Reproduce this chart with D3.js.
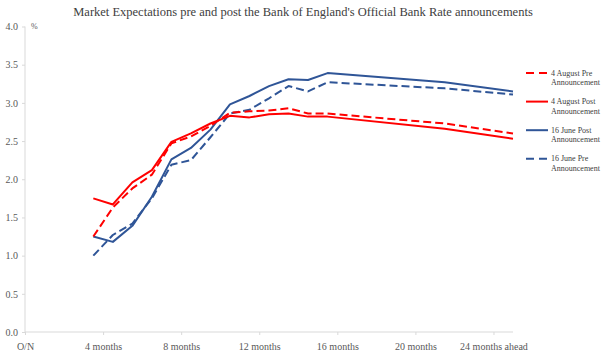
<!DOCTYPE html>
<html>
  <head>
    <meta charset="utf-8">
    <title>Market expectations</title>
    <script src="https://cdn.jsdelivr.net/npm/d3@7"></script>
    <style>
      body { margin: 0; background: #fff; }
      svg { font-family: "Liberation Serif", "DejaVu Serif", serif; }
      .axis text { fill: #595959; font-size: 10px; }
      .axis path, .axis line { stroke: #d9d9d9; }
      .series { fill: none; stroke-width: 2; stroke-linejoin: round; }
    </style>
  </head>

  <body>
    <svg id="chart" width="602" height="354"></svg>

    <script>
      // data (months ahead of O/N, % rate)
      months = [3.5, 4.5, 5.5, 6.5, 7.5, 8.5, 9.5, 10.5, 11.5, 12.5, 13.5, 14.5, 15.5, 21.5, 25];
      augustPre = [1.25, 1.63, 1.88, 2.06, 2.47, 2.56, 2.70, 2.87, 2.89, 2.90, 2.93, 2.86, 2.86, 2.73, 2.60];
      augustPost = [1.75, 1.67, 1.96, 2.12, 2.49, 2.60, 2.73, 2.83, 2.81, 2.85, 2.86, 2.82, 2.82, 2.66, 2.53];
      junePost = [1.25, 1.18, 1.39, 1.77, 2.26, 2.41, 2.65, 2.98, 3.09, 3.22, 3.31, 3.30, 3.39, 3.27, 3.15];
      junePre = [1.00, 1.27, 1.42, 1.75, 2.19, 2.25, 2.55, 2.86, 2.91, 3.06, 3.22, 3.15, 3.27, 3.19, 3.11];

      tickMonths = [0, 4, 8, 12, 16, 20, 24];
      tickLabels = ["O/N", "4 months", "8 months", "12 months", "16 months", "20 months", "24 months ahead"];

      seriesNames = ["4 August Pre", "4 August Post", "16 June Post", "16 June Pre"];
      seriesValues = [augustPre, augustPost, junePost, junePre];
      seriesColours = ["#ff0000", "#ff0000", "#2f5597", "#2f5597"];
      seriesDashed = [true, false, false, true];

      // elements
      chart = d3.select("#chart");
      serif = "'Liberation Serif', 'DejaVu Serif', serif";
      margin = { top: 26.5, right: 89, bottom: 22, left: 25 };
      width = 602;
      height = 354;

      x = d3.scaleLinear()
        .domain([0, 25])
        .range([margin.left, width - margin.right]);

      y = d3.scaleLinear()
        .domain([0, 4])
        .range([height - margin.bottom, margin.top]);

      // title
      chart.append("text")
        .attr("x", 303)
        .attr("y", 16)
        .attr("text-anchor", "middle")
        .style("font-size", "12.5px")
        .style("fill", "#404040")
        .text("Market Expectations pre and post the Bank of England's Official Bank Rate announcements");

      // axes
      yAxis = d3.axisLeft(y)
        .tickValues(d3.range(0, 4.01, 0.5))
        .tickFormat(d3.format(".1f"))
        .tickSize(3)
        .tickPadding(4);

      chart.append("g")
        .attr("class", "axis")
        .attr("transform", "translate(" + margin.left + ",0)")
        .call(yAxis)
        .attr("font-family", serif)
        .attr("font-size", 10)
        .call(g => g.select(".domain").attr("d", "M0," + y(0) + "V" + y(4)));

      chart.append("text")
        .attr("x", 31)
        .attr("y", 29)
        .style("font-size", "8px")
        .style("fill", "#595959")
        .text("%");

      xAxis = d3.axisBottom(x)
        .tickValues(tickMonths)
        .tickFormat((d, i) => tickLabels[i])
        .tickSize(3)
        .tickPadding(8);

      chart.append("g")
        .attr("class", "axis")
        .attr("transform", "translate(0," + y(0) + ")")
        .call(xAxis)
        .attr("font-family", serif)
        .attr("font-size", 10)
        .call(g => g.select(".domain").attr("d", "M" + x(0) + ",0H" + x(25)));

      // lines
      line = d3.line()
        .x((d, i) => x(months[i]))
        .y(d => y(d));

      drawOrder = [3, 2, 0, 1];
      drawOrder.forEach(i => {
        chart.append("path")
          .datum(seriesValues[i])
          .attr("class", "series")
          .attr("d", line)
          .style("stroke", seriesColours[i])
          .style("stroke-dasharray", seriesDashed[i] ? "8,4" : null);
      });

      // legend
      legend = chart.append("g")
        .attr("transform", "translate(526,73)");

      seriesNames.forEach((name, i) => {
        item = legend.append("g")
          .attr("transform", "translate(0," + (i * 28.6) + ")");
        item.append("line")
          .attr("x1", 0)
          .attr("x2", 22)
          .style("stroke", seriesColours[i])
          .style("stroke-width", 2)
          .style("stroke-dasharray", seriesDashed[i] ? "8,5" : null);
        item.append("text")
          .attr("x", 25)
          .attr("y", 2.5)
          .style("font-size", "8px")
          .style("fill", "#404040")
          .text(name);
        item.append("text")
          .attr("x", 25)
          .attr("y", 12)
          .style("font-size", "8px")
          .style("fill", "#404040")
          .text("Announcement");
      });
    </script>
  </body>
</html>
